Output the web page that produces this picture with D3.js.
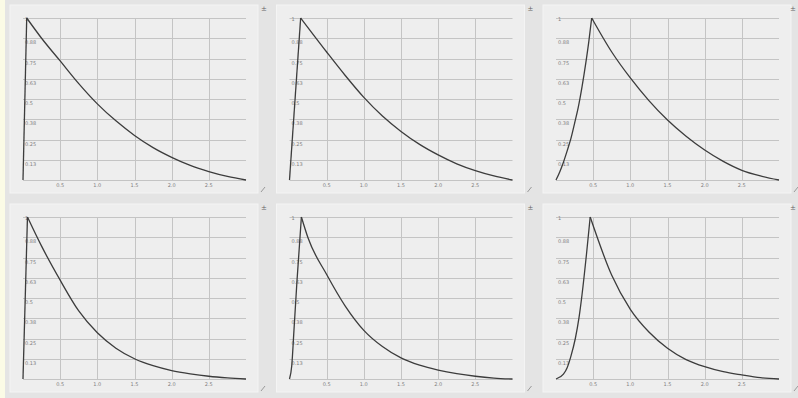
<!DOCTYPE html>
<html>
<head>
<meta charset="utf-8">
<script src="https://cdn.jsdelivr.net/npm/d3@7"></script>
<style>
html, body { margin: 0; padding: 0; background: #e4e4e4; }
svg { display: block; font-family: "DejaVu Sans", sans-serif; }
</style>
</head>
<body>
<div id="chart"></div>
<script>
// envelope shapes, [time, level]
var envTopLeft = [[0,0],[0.05,1],[0.25,0.875],[0.5,0.735],[0.75,0.595],[1,0.47],[1.25,0.365],[1.5,0.275],[1.75,0.2],[2,0.14],[2.25,0.09],[2.5,0.052],[2.75,0.022],[3,0]];
var envTopMid = [[0,0],[0.15,1],[0.5,0.79],[0.75,0.645],[1,0.51],[1.25,0.395],[1.5,0.3],[1.75,0.22],[2,0.155],[2.25,0.1],[2.5,0.058],[2.75,0.025],[3,0]];
var envTopRight = [[0,0],[0.05,0.05],[0.1,0.11],[0.15,0.18],[0.2,0.255],[0.25,0.35],[0.3,0.45],[0.35,0.575],[0.4,0.72],[0.44,0.85],[0.48,1],[0.75,0.79],[1,0.63],[1.25,0.49],[1.5,0.37],[1.75,0.27],[2,0.185],[2.25,0.115],[2.5,0.06],[2.75,0.025],[3,0]];
var envBotLeft = [[0,0],[0.06,1],[0.25,0.82],[0.5,0.61],[0.75,0.42],[1,0.285],[1.25,0.19],[1.5,0.125],[1.75,0.082],[2,0.052],[2.25,0.032],[2.5,0.017],[2.75,0.007],[3,0]];
var envBotMid = [[0,0],[0.03,0.08],[0.06,0.3],[0.1,0.6],[0.16,1],[0.25,0.87],[0.5,0.645],[0.75,0.45],[1,0.3],[1.25,0.2],[1.5,0.13],[1.75,0.085],[2,0.055],[2.25,0.033],[2.5,0.017],[2.75,0.006],[3,0]];
var envBotRight = [[0,0],[0.1,0.03],[0.15,0.07],[0.2,0.14],[0.26,0.25],[0.31,0.38],[0.35,0.52],[0.41,0.77],[0.46,1],[0.75,0.64],[1,0.43],[1.25,0.29],[1.5,0.19],[1.75,0.12],[2,0.076],[2.25,0.045],[2.5,0.025],[2.75,0.008],[3,0]];

var xTicks = [0.5, 1, 1.5, 2, 2.5];
var xTickLabels = ['0.5', '1.0', '1.5', '2.0', '2.5'];
var yTicks = [1, 0.875, 0.75, 0.625, 0.5, 0.375, 0.25, 0.125];
var yTickLabels = ['1', '0.88', '0.75', '0.63', '0.5', '0.38', '0.25', '0.13'];

var envelopes = [envTopLeft, envTopMid, envTopRight, envBotLeft, envBotMid, envBotRight];

var W = 798, H = 398;
var svg = d3.select('#chart')
    .append('svg')
    .attr('width', W)
    .attr('height', H);

svg.append('rect')
    .attr('width', W)
    .attr('height', H)
    .attr('fill', '#e4e4e4');

// pale strip on the left edge
svg.append('rect')
    .attr('width', 5)
    .attr('height', H)
    .attr('fill', '#fbfbe6');

var drawPanel = function(env, i) {
	var col = i % 3;
	var row = Math.floor(i / 3);
	var px = 10 + col * 266.5;
	var py = 5 + row * 199;
	var pw = 248, ph = 188;

	var g = svg.append('g');

	g.append('rect')
	    .attr('x', px)
	    .attr('y', py)
	    .attr('width', pw)
	    .attr('height', ph)
	    .attr('fill', '#eeeeee')
	    .attr('stroke', '#f4f4f4');

	var gx = px + 13, gy = py + 13;
	var x = d3.scaleLinear().domain([0, 3]).range([gx, gx + 223]);
	var y = d3.scaleLinear().domain([0, 1]).range([gy + 162, gy]);

	// horizontal grid, including zero line
	g.selectAll('.hg')
	    .data(yTicks.concat([0]))
	    .enter().append('line')
	    .attr('x1', x(0))
	    .attr('x2', x(3))
	    .attr('y1', function(d) { return Math.round(y(d)) + 0.5; })
	    .attr('y2', function(d) { return Math.round(y(d)) + 0.5; })
	    .attr('stroke', '#c4c4c4');

	g.selectAll('.vg')
	    .data(xTicks)
	    .enter().append('line')
	    .attr('x1', function(d) { return Math.round(x(d)) + 0.5; })
	    .attr('x2', function(d) { return Math.round(x(d)) + 0.5; })
	    .attr('y1', y(1))
	    .attr('y2', y(0))
	    .attr('stroke', '#c4c4c4');

	g.selectAll('.yl')
	    .data(yTicks)
	    .enter().append('text')
	    .attr('x', x(0) + 2)
	    .attr('y', function(d, k) { return y(d) + (k === 0 ? 3 : 6); })
	    .attr('font-size', 5)
	    .attr('fill', '#808080')
	    .text(function(d, k) { return yTickLabels[k]; });

	g.selectAll('.xl')
	    .data(xTicks)
	    .enter().append('text')
	    .attr('x', function(d) { return x(d); })
	    .attr('y', y(0) + 7)
	    .attr('text-anchor', 'middle')
	    .attr('font-size', 5)
	    .attr('fill', '#808080')
	    .text(function(d, k) { return xTickLabels[k]; });

	var line = d3.line()
	    .x(function(d) { return x(d[0]); })
	    .y(function(d) { return y(d[1]); })
	    .curve(d3.curveMonotoneX);

	// attack and decay drawn apart so the peak stays sharp
	var peak = d3.maxIndex(env, function(d) { return d[1]; });
	[env.slice(0, peak + 1), env.slice(peak)].forEach(function(part) {
		g.append('path')
		    .datum(part)
		    .attr('d', line)
		    .attr('fill', 'none')
		    .attr('stroke', '#3c3c3c')
		    .attr('stroke-width', 1.3)
		    .attr('stroke-linejoin', 'miter');
	});

	// little corner controls
	g.append('text')
	    .attr('x', Math.min(px + pw + 6, W - 5))
	    .attr('y', py + 6)
	    .attr('text-anchor', 'middle')
	    .attr('font-size', 7)
	    .attr('fill', '#666')
	    .text('±');

	g.append('line')
	    .attr('x1', px + pw + 3)
	    .attr('y1', py + ph - 1)
	    .attr('x2', px + pw + 7)
	    .attr('y2', py + ph - 6)
	    .attr('stroke', '#999');
}

envelopes.forEach(drawPanel);
</script>
</body>
</html>
